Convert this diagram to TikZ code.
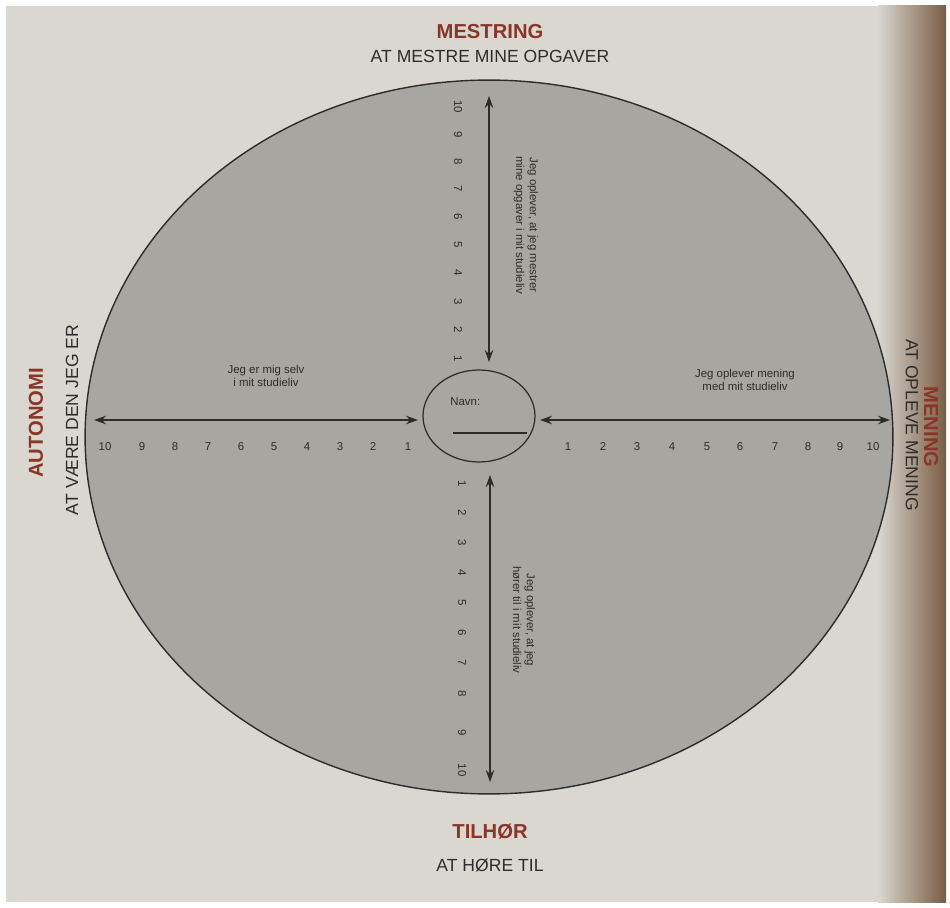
\documentclass[tikz,border=0pt]{standalone}
\usepackage{fontspec}
\setmainfont{Liberation Sans}
\usetikzlibrary{arrows.meta,shapes.geometric}
\definecolor{paper}{HTML}{D9D7D0}
\definecolor{disc}{HTML}{A7A6A1}
\definecolor{ink}{HTML}{2C2C2C}
\definecolor{titlered}{HTML}{8A3526}
\definecolor{edgebrown}{HTML}{7A5C44}
\tikzset{
  axisarrow/.style={draw=ink, line width=0.7pt, {Stealth[length=2.4mm,width=1.7mm]}-{Stealth[length=2.4mm,width=1.7mm]}},
  numlabel/.style={font=\fontsize{6.5}{7}\selectfont, text=ink, inner sep=0pt},
  smalltext/.style={font=\fontsize{6.5}{7.8}\selectfont, text=ink, align=center, inner sep=0pt},
  titletext/.style={font=\bfseries\fontsize{11.5}{13}\selectfont, text=titlered, inner sep=0pt},
  subtext/.style={font=\fontsize{10}{12}\selectfont, text=ink, inner sep=0pt}
}
\begin{document}
\begin{tikzpicture}[x=0.02cm,y=-0.02cm]
\useasboundingbox (0,0) rectangle (950,908);
\fill[white] (0,0) rectangle (950,908);
\fill[paper] (6,6) rectangle (946,902);
\shade[left color=paper, right color=edgebrown] (878,6) rectangle (946,902);
% big ellipse
\node[draw=ink, line width=0.8pt, fill=disc, shape=ellipse, minimum width=16.16cm, minimum height=14.28cm, inner sep=0pt] (disc) at (489,437) {};
% center ellipse
\node[draw=ink, line width=0.7pt, shape=ellipse, minimum width=2.24cm, minimum height=1.84cm, inner sep=0pt] (centre) at (479,416) {};
\node[font=\fontsize{6.5}{7}\selectfont, text=ink, anchor=west, inner sep=0pt] (navn) at (450,402) {Navn:};
\coordinate (nl1) at (453,433);
\coordinate (nl2) at (527,433);
\draw[ink, line width=0.6pt] (nl1) -- (nl2);
% arrow ends
\coordinate (topA) at (489,96);
\coordinate (topB) at (489,362);
\coordinate (botA) at (490,475);
\coordinate (botB) at (490,782);
\coordinate (leftA) at (94,420);
\coordinate (leftB) at (418,420);
\coordinate (rightA) at (540,420);
\coordinate (rightB) at (890,420);
\draw[axisarrow] (topA) -- (topB);
\draw[axisarrow] (botA) -- (botB);
\draw[axisarrow] (leftA) -- (leftB);
\draw[axisarrow] (rightA) -- (rightB);
% numbers top (10 at top .. 1 at bottom)
\foreach \n/\yy in {10/107,9/135,8/162,7/189,6/217,5/245,4/273,3/302,2/330,1/359}
  \node[numlabel, rotate=-90] (t\n) at (458,\yy) {\n};
% numbers bottom
\foreach \n/\yy in {1/484,2/513,3/543,4/573,5/603,6/633,7/663,8/694,9/733,10/770}
  \node[numlabel, rotate=-90] (b\n) at (462,\yy) {\n};
% numbers left
\foreach \n/\xx in {10/105,9/142,8/175,7/208,6/241,5/274,4/307,3/340,2/373,1/408}
  \node[numlabel] (l\n) at (\xx,447) {\n};
% numbers right
\foreach \n/\xx in {1/568,2/603,3/637,4/672,5/707,6/740,7/775,8/808,9/840,10/873}
  \node[numlabel] (r\n) at (\xx,447) {\n};
% quadrant texts
\node[smalltext, rotate=-90] (toptext) at (526,225) {Jeg oplever, at jeg mestrer\\mine opgaver i mit studieliv};
\node[smalltext, rotate=-90] (bottext) at (524,620) {Jeg oplever, at jeg\\hører til i mit studieliv};
\node[smalltext] (lefttext) at (266,376) {Jeg er mig selv\\i mit studieliv};
\node[smalltext] (righttext) at (745,380) {Jeg oplever mening\\med mit studieliv};
% outer labels
\node[titletext] (mestring) at (490,32) {MESTRING};
\node[subtext] (mestringsub) at (490,56) {AT MESTRE MINE OPGAVER};
\node[titletext] (tilhor) at (490,832) {TILHØR};
\node[subtext] (tilhorsub) at (490,865) {AT HØRE TIL};
\node[titletext, rotate=90] (autonomi) at (36,423) {AUTONOMI};
\node[subtext, rotate=90] (autonomisub) at (72,420) {AT VÆRE DEN JEG ER};
\node[titletext, rotate=-90] (mening) at (931,427) {MENING};
\node[subtext, rotate=-90] (meningsub) at (912,425) {AT OPLEVE MENING};
\end{tikzpicture}
\end{document}
